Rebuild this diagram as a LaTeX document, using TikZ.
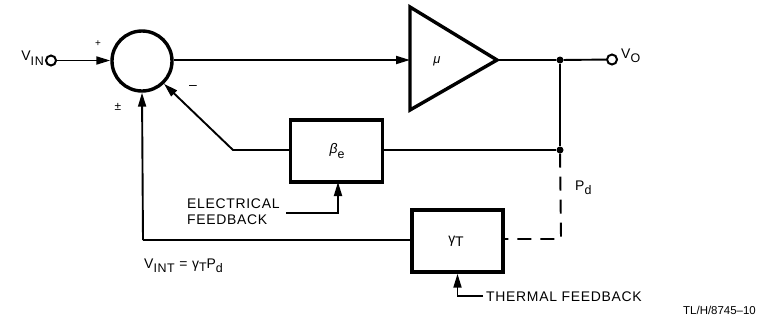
\documentclass[tikz,border=0pt]{standalone}
\usepackage{fontspec}
\setmainfont{Liberation Sans}
\newfontfamily\lsfont[LetterSpace=5]{Liberation Sans}
\usetikzlibrary{arrows.meta}
\tikzset{
  wire/.style={line width=1.9bp},
  arr/.style={wire,-{Triangle[length=14bp,width=8bp]}},
  blk/.style={draw,line width=3.4bp,minimum width=92bp,minimum height=62bp,inner sep=0pt},
  term/.style={circle,draw,line width=2bp,minimum size=10bp,inner sep=0pt},
  dotn/.style={circle,fill,minimum size=7bp,inner sep=0pt},
  lbl/.style={font=\fontsize{14}{16}\selectfont\lsfont,inner sep=0pt},
  dashwire/.style={wire,dash pattern=on 14bp off 9bp}
}
\newcommand{\sbs}[1]{\raisebox{-4.5bp}{\fontsize{12.5}{14}\selectfont #1}}
\begin{document}
\begin{tikzpicture}[x=1bp,y=-1bp]
\useasboundingbox (0,0) rectangle (775,323);
% summing junction
\node[circle,draw,line width=3.4bp,minimum size=60bp,inner sep=0pt] (sum) at (142,61) {};
\node[term] (vin) at (51,60.5) {};
\node[lbl,anchor=east] (vinl) at (44,58) {V\sbs{IN}};
\draw[arr] (vin) -- (sum.west |- vin);
\node[font=\fontsize{10}{12}\selectfont] (plus) at (98,44) {+};
\node[font=\fontsize{12}{12}\selectfont] (pm) at (118,107) {±};
\node[font=\fontsize{14}{12}\selectfont] (minus) at (193,87) {–};
% amplifier
\coordinate (ampin) at (410,60);
\coordinate (ampout) at (497,60);
\draw[line width=3.4bp,line join=miter] (410,7) -- (ampout) -- (410,110) -- cycle;
\node[font=\fontsize{13}{14}\selectfont\itshape] (mu) at (437,61) {μ};
\draw[arr] (sum.east |- ampin) -- (ampin);
% output
\node[dotn] (d1) at (560,60) {};
\node[term] (vo) at (612,59.5) {};
\node[lbl,anchor=west] (vol) at (621,56) {V\sbs{O}};
\draw[wire] (ampout) -- (d1) -- (vo);
\node[dotn] (d2) at (560,150) {};
\draw[wire] (d1) -- (d2);
% electrical feedback
\node[blk] (beta) at (336.5,151) {};
\node[font=\fontsize{14}{16}\selectfont] (betal) at (337,151) {\textit{β}\raisebox{-4.5bp}{\fontsize{12.5}{14}\selectfont e}};
\coordinate (bk) at (233,150);
\draw[wire] (d2) -- (beta.east |- d2);
\draw[arr] (beta.west |- bk) -- (bk) -- (sum.-46);
\node[lbl,anchor=west,align=left] (eft) at (187,211.5) {ELECTRICAL\\FEEDBACK};
\coordinate (ef) at (286,213);
\draw[arr] (ef) -- (338,213) -- (338,182);
% thermal feedback
\node[blk,minimum width=91bp] (gam) at (457.5,241) {};
\node[font=\fontsize{14}{16}\selectfont] (gaml) at (456,241) {γ\raisebox{-3bp}{T}};
\coordinate (tc) at (561,239);
\draw[dashwire] (d2) -- (tc) -- (gam.east |- tc);
\node[lbl,anchor=west] (pd) at (575,188) {P\sbs{d}};
\coordinate (tb) at (143,240);
\draw[wire] (gam.west |- tb) -- (tb);
\draw[arr] (tb) -- (sum.south);
\coordinate (tf) at (483,296);
\draw[arr] (tf) -| (gam.south);
\node[lbl,anchor=west] (tft) at (486,297) {THERMAL FEEDBACK};
\node[lbl,anchor=west] (vint) at (144,266) {V\sbs{INT} = γ\raisebox{-3bp}{\fontsize{12.5}{14}\selectfont T}P\sbs{d}};
\node[font=\fontsize{11.5}{13}\selectfont,anchor=west,inner sep=0pt] (tl) at (683,310) {TL/H/8745–10};
\end{tikzpicture}
\end{document}
